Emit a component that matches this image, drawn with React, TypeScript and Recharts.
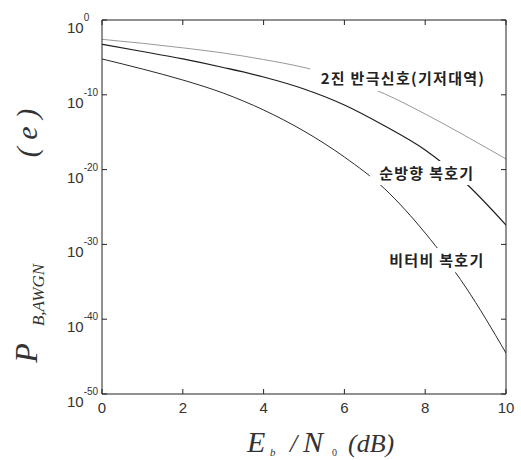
import React from 'react';
import { LineChart, Line, XAxis, YAxis, ReferenceDot } from 'recharts';

// Eb/N0 in dB
const ebn0 = [0, 1, 2, 3, 4, 5, 6, 7, 8, 9, 10];
// 2진 반극신호(기저대역)
const bpskBaseband = [2.6e-3, 7.7e-4, 1.9e-4, 3.9e-5, 5.2e-6, 4.5e-7, 1.5e-8, 1.3e-10, 2.7e-13, 3.1e-16, 2.6e-19];
// 순방향 복호기
const feedforwardDecoder = [5.6e-4, 6.2e-5, 6.2e-6, 4.5e-7, 2.4e-8, 6.0e-10, 4.4e-12, 6.8e-15, 4.2e-18, 1.6e-22, 3.9e-28];
// 비터비 복호기
const viterbiDecoder = [6.2e-6, 2.8e-7, 9.5e-9, 1.7e-10, 9.3e-13, 1.4e-15, 4.8e-19, 2.6e-23, 3.3e-29, 2.0e-36, 3.0e-45];

const xTicks = [0, 2, 4, 6, 8, 10];
const yTicks = [1e-50, 1e-40, 1e-30, 1e-20, 1e-10, 1];

const seriesLabels = ['2진 반극신호(기저대역)', '순방향 복호기', '비터비 복호기'];
const labelX = [7.45, 8.04, 8.29];
const labelY = [1.3e-8, 3.5e-21, 8e-33];

const data = ebn0.map((x, i) => ({
  x,
  bpsk: bpskBaseband[i],
  ff: feedforwardDecoder[i],
  vit: viterbiDecoder[i],
}));

const AXIS = '#222';
const TICK_FONT = '"Liberation Sans", Arial, sans-serif';
const SERIF = '"Liberation Serif", "Times New Roman", serif';

const LeftTick = (props: any) => {
  const { x, y, payload } = props;
  const exp = Math.round(Math.log10(payload.value));
  return (
    <g>
      <line x1={x} x2={x + 5} y1={y} y2={y} stroke={AXIS} />
      <text x={x - 35} y={y + 13} fontSize={15} fill="#333" fontFamily={TICK_FONT}>
        10
        <tspan dy={-12} fontSize={10}>{`${exp}`}</tspan>
      </text>
    </g>
  );
};

const RightTick = (props: any) => {
  const { x, y } = props;
  return <line x1={x} x2={x - 5} y1={y} y2={y} stroke={AXIS} />;
};

const BottomTick = (props: any) => {
  const { x, y, payload } = props;
  return (
    <g>
      <line x1={x} x2={x} y1={y} y2={y - 5} stroke={AXIS} />
      <text x={x} y={y + 19} fontSize={15} fill="#333" textAnchor="middle" fontFamily={TICK_FONT}>
        {payload.value}
      </text>
    </g>
  );
};

const TopTick = (props: any) => {
  const { x, y } = props;
  return <line x1={x} x2={x} y1={y} y2={y + 5} stroke={AXIS} />;
};

const textWidth = (s: string, fs: number, ls: number) => {
  let w = 0;
  for (const ch of s) {
    const c = ch.charCodeAt(0);
    if (c >= 0x1100) w += fs;
    else if (ch === ' ') w += fs * 0.3;
    else if (ch === '(' || ch === ')') w += fs * 0.35;
    else w += fs * 0.56;
    w += ls;
  }
  return w;
};

const makeLabelShape = (text: string) => (p: any) => {
  const { cx, cy } = p;
  const fs = 15;
  const ls = 1.3;
  const w = textWidth(text, fs, ls);
  return (
    <g>
      <rect x={cx - w / 2 - 5} y={cy - 12} width={w + 10} height={24} fill="#fff" />
      <text
        x={cx}
        y={cy + 5.5}
        textAnchor="middle"
        fontSize={fs}
        letterSpacing={ls}
        fontWeight={700}
        fill="#222"
        fontFamily='"Noto Sans CJK KR", "Noto Sans", sans-serif'
      >
        {text}
      </text>
    </g>
  );
};

const YLabel = (props: any) => {
  const vb = props.viewBox || { x: 0, y: 20, width: 102, height: 374 };
  const bx = vb.x + 37;
  const top = vb.y;
  const parts = [
    { t: 'P', c: top + 333, fs: 32, dx: 0 },
    { t: 'B,AWGN', c: top + 275, fs: 17, dx: 7 },
    { t: '( e )', c: top + 113, fs: 30, dx: 0 },
  ];
  return (
    <g fill="#333" fontFamily={SERIF} fontStyle="italic">
      {parts.map((p, i) => (
        <text
          key={i}
          x={bx + p.dx}
          y={p.c}
          fontSize={p.fs}
          textAnchor="middle"
          transform={`rotate(-90, ${bx + p.dx}, ${p.c})`}
        >
          {p.t}
        </text>
      ))}
    </g>
  );
};

const XLabel = (props: any) => {
  const vb = props.viewBox || { x: 102, y: 394, width: 404, height: 66 };
  const x0 = vb.x;
  const base = vb.y + 58;
  return (
    <g fill="#333" fontFamily={SERIF}>
      <text x={x0 + 145} y={base} fontSize={30} fontStyle="italic">E</text>
      <text x={x0 + 168} y={base + 4} fontSize={11} fontStyle="italic">b</text>
      <text x={x0 + 188} y={base} fontSize={26} fontStyle="italic">/</text>
      <text x={x0 + 201} y={base} fontSize={30} fontStyle="italic">N</text>
      <text x={x0 + 230} y={base + 4} fontSize={10}>0</text>
      <text x={x0 + 246} y={base} fontSize={26} fontStyle="italic">(dB)</text>
    </g>
  );
};

export default function App() {
  return (
    <div style={{ position: 'absolute', left: 0, top: 0, width: 521, height: 460, background: '#fff' }}>
      <LineChart width={521} height={460} data={data} margin={{ top: 0, right: 0, bottom: 0, left: 0 }}>
        <XAxis
          xAxisId="bottom"
          dataKey="x"
          type="number"
          domain={[0, 10]}
          ticks={xTicks}
          interval={0}
          height={66}
          tickSize={0}
          tickMargin={0}
          tickLine={false}
          axisLine={{ stroke: AXIS }}
          tick={<BottomTick />}
          label={<XLabel />}
          allowDataOverflow
        />
        <XAxis
          xAxisId="top"
          orientation="top"
          dataKey="x"
          type="number"
          domain={[0, 10]}
          ticks={xTicks}
          interval={0}
          height={20}
          tickSize={0}
          tickMargin={0}
          tickLine={false}
          axisLine={{ stroke: AXIS }}
          tick={<TopTick />}
          allowDataOverflow
        />
        <YAxis
          yAxisId="left"
          type="number"
          scale="log"
          domain={[1e-50, 1]}
          ticks={yTicks}
          interval={0}
          width={102}
          tickSize={0}
          tickMargin={0}
          tickLine={false}
          axisLine={{ stroke: AXIS }}
          tick={<LeftTick />}
          label={<YLabel />}
          allowDataOverflow
        />
        <YAxis
          yAxisId="right"
          orientation="right"
          type="number"
          scale="log"
          domain={[1e-50, 1]}
          ticks={yTicks}
          interval={0}
          width={15}
          tickSize={0}
          tickMargin={0}
          tickLine={false}
          axisLine={{ stroke: AXIS }}
          tick={<RightTick />}
          allowDataOverflow
        />
        <Line xAxisId="bottom" yAxisId="left" type="monotone" dataKey="bpsk" stroke="#999999" strokeWidth={1} dot={false} isAnimationActive={false} />
        <Line xAxisId="bottom" yAxisId="left" type="monotone" dataKey="ff" stroke="#1e1e1e" strokeWidth={1.2} dot={false} isAnimationActive={false} />
        <Line xAxisId="bottom" yAxisId="left" type="monotone" dataKey="vit" stroke="#2a2a2a" strokeWidth={1} dot={false} isAnimationActive={false} />
        {seriesLabels.map((t, i) => (
          <ReferenceDot
            key={t}
            xAxisId="bottom"
            yAxisId="left"
            x={labelX[i]}
            y={labelY[i]}
            r={0}
            ifOverflow="visible"
            shape={makeLabelShape(t)}
          />
        ))}
      </LineChart>
    </div>
  );
}
